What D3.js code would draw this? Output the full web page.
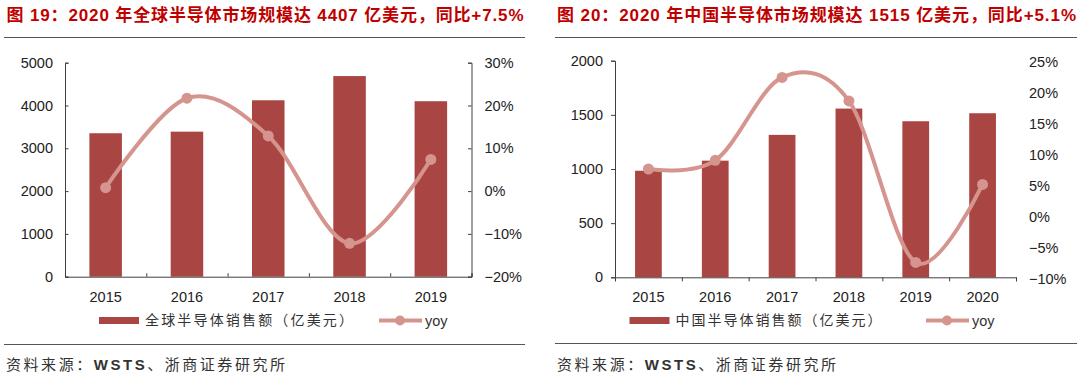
<!DOCTYPE html>
<html>
<head>
<meta charset="utf-8">
<script src="https://cdn.jsdelivr.net/npm/d3@7"></script>
<style>
  body { margin: 0; background: #fff; }
  text { font-family: "Liberation Sans", Arial, sans-serif; }
  .cjk { font-family: "Noto Sans CJK SC", sans-serif; }
  .mixed { font-family: "Liberation Sans", "Noto Sans CJK SC", sans-serif; }
</style>
</head>
<body>
<div id="my_dataviz"></div>
<script>
// chart data
var yearsGlobal = ["2015", "2016", "2017", "2018", "2019"];
var salesGlobal = [3352, 3389, 4122, 4688, 4100];
var yoyGlobal = [0.8, 21.7, 12.9, -12.2, 7.4];
var leftTicksGlobal = [0, 1000, 2000, 3000, 4000, 5000];
var rightTicksGlobal = [-20, -10, 0, 10, 20, 30];

var yearsChina = ["2015", "2016", "2017", "2018", "2019", "2020"];
var salesChina = [984, 1077, 1315, 1558, 1441, 1515];
var yoyChina = [7.5, 8.9, 22.3, 18.5, -7.6, 5.0];
var leftTicksChina = [0, 500, 1000, 1500, 2000];
var rightTicksChina = [-10, -5, 0, 5, 10, 15, 20, 25];

var barColor = "#a94644",
    lineColor = "#d6948f",
    titleColor = "#c00000",
    axisColor = "#404040",
    textColor = "#222";

var svg = d3.select("#my_dataviz")
            .append("svg")
              .attr("width", 1080)
              .attr("height", 377);

function pct(v) { return (v < 0 ? "\u2212" + Math.abs(v) : v) + "%"; }

function drawChart(c) {
  var g = svg.append("g");

  // title and rules
  g.append("text")
   .attr("class", "mixed")
   .attr("x", c.titleX).attr("y", 21)
   .attr("textLength", c.titleLen).attr("lengthAdjust", "spacing")
   .style("font-size", "17px").style("font-weight", "bold")
   .style("fill", titleColor)
   .text(c.title);
  g.append("line")
   .attr("x1", c.ruleX1).attr("x2", c.ruleX2)
   .attr("y1", 37.5).attr("y2", 37.5)
   .style("stroke", "#555").style("stroke-width", 1);
  g.append("line")
   .attr("x1", c.ruleX1).attr("x2", c.ruleX2)
   .attr("y1", c.bottomRuleY).attr("y2", c.bottomRuleY)
   .style("stroke", "#555").style("stroke-width", 1);

  var x = d3.scaleBand()
    .domain(c.years)
    .range([c.left, c.right])
    .paddingInner(0.6)
    .paddingOuter(0.3);
  var y = d3.scaleLinear()
    .domain([0, d3.max(c.leftTicks)])
    .range([c.bottom, c.top]);
  var y2 = d3.scaleLinear()
    .domain([d3.min(c.rightTicks), d3.max(c.rightTicks)])
    .range([c.bottom, c.top]);

  // bars
  g.append("g").selectAll("rect")
   .data(c.sales)
   .enter()
   .append("rect")
     .attr("x", function (d, i) { return x(c.years[i]); })
     .attr("y", function (d) { return y(d); })
     .attr("width", x.bandwidth())
     .attr("height", function (d) { return c.bottom - y(d); })
     .style("fill", barColor);

  // axes
  var inner = c.ticksInside;
  var tk = inner ? -3.5 : 4;
  var xAxis = g.append("g")
    .attr("transform", "translate(0," + c.bottom + ")")
    .call(d3.axisBottom(d3.scaleLinear().domain([0, c.years.length]).range([c.left, c.right]))
            .tickValues(d3.range(c.years.length + 1))
            .tickSize(tk).tickFormat(""));
  xAxis.selectAll("path, line").style("stroke", axisColor);

  g.append("g").selectAll("text")
   .data(c.years)
   .enter()
   .append("text")
     .attr("x", function (d) { return x(d) + x.bandwidth() / 2; })
     .attr("y", c.bottom + 20)
     .attr("dy", "0.35em")
     .attr("text-anchor", "middle")
     .style("font-size", "14.5px").style("fill", textColor)
     .text(function (d) { return d; });

  var yAxis = g.append("g")
    .attr("transform", "translate(" + c.left + ",0)")
    .call(d3.axisLeft(y).tickValues(c.leftTicks).tickSize(tk).tickFormat(""));
  yAxis.selectAll("path, line").style("stroke", axisColor);

  g.append("g").selectAll("text")
   .data(c.leftTicks)
   .enter()
   .append("text")
     .attr("x", c.left - 12)
     .attr("y", function (d) { return y(d); })
     .attr("dy", "0.35em")
     .attr("text-anchor", "end")
     .style("font-size", "14.5px").style("fill", textColor)
     .text(function (d) { return d; });

  if (c.rightAxisLine) {
    var yAxis2 = g.append("g")
      .attr("transform", "translate(" + c.right + ",0)")
      .call(d3.axisRight(y2).tickValues(c.rightTicks).tickSize(tk).tickFormat(""));
    yAxis2.selectAll("path, line").style("stroke", axisColor);
  }

  g.append("g").selectAll("text")
   .data(c.rightTicks)
   .enter()
   .append("text")
     .attr("x", c.right + 13)
     .attr("y", function (d) { return y2(d) + c.rightLabelShift; })
     .attr("dy", "0.35em")
     .attr("text-anchor", "start")
     .style("font-size", "14.5px").style("fill", textColor)
     .text(pct);

  // yoy line
  var line = d3.line()
    .x(function (d, i) { return x(c.years[i]) + x.bandwidth() / 2; })
    .y(function (d) { return y2(d); })
    .curve(d3.curveCatmullRom.alpha(0));
  g.append("path")
   .datum(c.yoy)
   .attr("d", line)
   .style("fill", "none")
   .style("stroke", lineColor)
   .style("stroke-width", 4);
  g.append("g").selectAll("circle")
   .data(c.yoy)
   .enter()
   .append("circle")
     .attr("cx", function (d, i) { return x(c.years[i]) + x.bandwidth() / 2; })
     .attr("cy", function (d) { return y2(d); })
     .attr("r", 5.5)
     .style("fill", lineColor);

  // legend
  var ly = 320.5;
  g.append("rect")
   .attr("x", c.legBarX).attr("y", ly - 3.5)
   .attr("width", 40).attr("height", 7)
   .style("fill", barColor);
  g.append("text")
   .attr("class", "cjk")
   .attr("x", c.legBarX + 46).attr("y", ly).attr("dy", "0.35em")
   .attr("textLength", c.legTextLen).attr("lengthAdjust", "spacing")
   .style("font-size", "14px").style("fill", "#333")
   .text(c.legendName);
  g.append("line")
   .attr("x1", c.legLineX).attr("x2", c.legLineX + 43)
   .attr("y1", ly).attr("y2", ly)
   .style("stroke", lineColor).style("stroke-width", 4);
  g.append("circle")
   .attr("cx", c.legLineX + 21).attr("cy", ly).attr("r", 5)
   .style("fill", lineColor);
  g.append("text")
   .attr("x", c.legLineX + 46).attr("y", ly).attr("dy", "0.35em")
   .style("font-size", "14.5px").style("fill", "#333")
   .text("yoy");

  // source
  var src = g.append("text")
   .attr("class", "cjk")
   .attr("x", c.ruleX1 + 2).attr("y", 365).attr("dy", "0.35em")
   .attr("textLength", 279).attr("lengthAdjust", "spacing")
   .style("font-size", "15px").style("fill", "#333");
  src.append("tspan").text("资料来源：");
  src.append("tspan").style("font-weight", "bold").style("font-family", "'Liberation Sans Narrow', 'Liberation Sans', sans-serif").text("WSTS");
  src.append("tspan").text("、浙商证券研究所");
}

drawChart({
  title: "图 19：2020 年全球半导体市场规模达 4407 亿美元，同比+7.5%",
  titleX: 6.5, titleLen: 517,
  ruleX1: 4, ruleX2: 525, bottomRuleY: 344.5,
  years: yearsGlobal, sales: salesGlobal, yoy: yoyGlobal,
  leftTicks: leftTicksGlobal, rightTicks: rightTicksGlobal,
  left: 65, right: 471.5, top: 62.7, bottom: 276.7,
  ticksInside: true, rightAxisLine: true, rightLabelShift: 0,
  legBarX: 99, legTextLen: 208, legLineX: 379,
  legendName: "全球半导体销售额（亿美元）"
});

drawChart({
  title: "图 20：2020 年中国半导体市场规模达 1515 亿美元，同比+5.1%",
  titleX: 557, titleLen: 519,
  ruleX1: 555, ruleX2: 1077, bottomRuleY: 343.5,
  years: yearsChina, sales: salesChina, yoy: yoyChina,
  leftTicks: leftTicksChina, rightTicks: rightTicksChina,
  left: 615, right: 1016, top: 60.7, bottom: 277.3,
  ticksInside: false, rightAxisLine: false, rightLabelShift: 1.5,
  legBarX: 629.5, legTextLen: 206, legLineX: 926,
  legendName: "中国半导体销售额（亿美元）"
});
</script>
</body>
</html>
